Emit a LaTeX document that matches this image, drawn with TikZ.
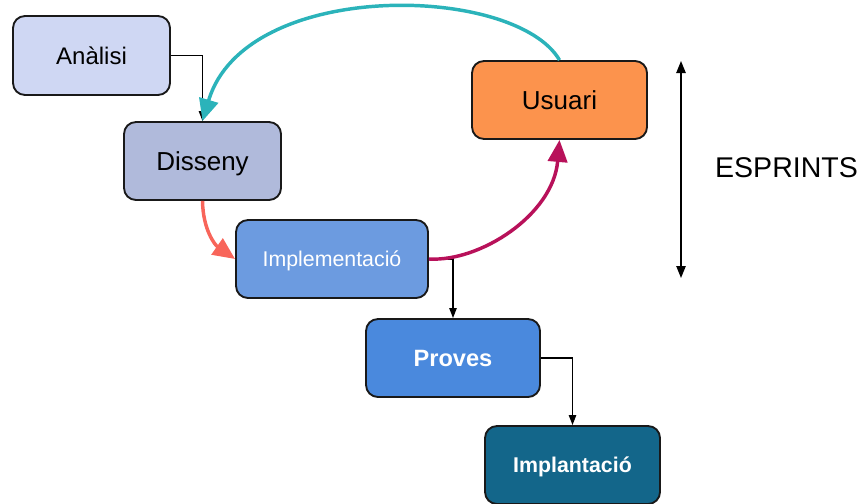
\documentclass[tikz,border=0pt]{standalone}
\usepackage{fontspec}
\setmainfont{Liberation Sans}
\usepackage{xcolor}
\usetikzlibrary{arrows.meta}

\definecolor{analisic}{HTML}{CFD7F3}
\definecolor{dissenyc}{HTML}{B0BADB}
\definecolor{implemc}{HTML}{6C9BE0}
\definecolor{provesc}{HTML}{4A89DD}
\definecolor{implantc}{HTML}{13668A}
\definecolor{usuaric}{HTML}{FC934D}
\definecolor{tealc}{HTML}{2BB3BA}
\definecolor{salmonc}{HTML}{F8655A}
\definecolor{magentac}{HTML}{B8115A}

\begin{document}
\begin{tikzpicture}[x=0.75pt,y=-0.75pt,
  fase/.style={draw=black!90,rounded corners=9pt,line width=1.4pt,inner sep=0pt,text depth=0pt,minimum height=58.5pt},
  pas/.style={line width=1.1pt,-{Triangle[length=7.5pt,width=5.5pt]}},
  cicle/.style={line width=2.6pt,-{Triangle[length=16.5pt,width=14.5pt]}}]
\useasboundingbox (0,0) rectangle (862,503);

\node (analisi) at (91.5,55.5) [fase,fill=analisic,minimum width=117.75pt,minimum height=59.25pt,
  font=\fontsize{18}{22}\selectfont] {Anàlisi};
\node (disseny) at (202.5,161) [fase,fill=dissenyc,minimum width=117.75pt,
  font=\fontsize{19.5}{23}\selectfont] {Disseny};
\node (implem) at (332,259) [fase,fill=implemc,minimum width=144pt,text=white,
  font=\fontsize{16}{19}\selectfont] {Implementació};
\node (proves) at (453,358) [fase,fill=provesc,minimum width=130.5pt,text=white,
  font=\bfseries\fontsize{17.7}{21}\selectfont] {Proves};
\node (implant) at (572.5,465) [fase,fill=implantc,minimum width=131.25pt,text=white,
  font=\bfseries\fontsize{16}{19}\selectfont] {Implantació};
\node (usuari) at (559.5,100) [fase,fill=usuaric,minimum width=131.25pt,
  font=\fontsize{19.5}{23}\selectfont] {Usuari};
\node (esprints) at (786.5,168) [text depth=0pt,font=\fontsize{21.4}{25}\selectfont] {ESPRINTS};
\coordinate (sprinttop) at (681,61);
\coordinate (sprintbot) at (681,278);

\draw [pas] (analisi.east) -| (disseny.north);
\draw [pas] (implem.east) -| (proves.north);
\draw [pas] (proves.east) -| (implant.north);

\draw [cicle,tealc] (usuari.north) .. controls (515,-16) and (245,-22) .. (disseny.north);
\draw [cicle,salmonc] (disseny.south) .. controls (203,230) and (215,245) .. (implem.west);
\draw [cicle,magentac] (implem.east) .. controls (480,262) and (553,215) .. (usuari.south);

\draw [line width=1.1pt,{Triangle[length=9pt,width=7pt]}-{Triangle[length=9pt,width=7pt]}] (sprinttop) -- (sprintbot);
\end{tikzpicture}
\end{document}
